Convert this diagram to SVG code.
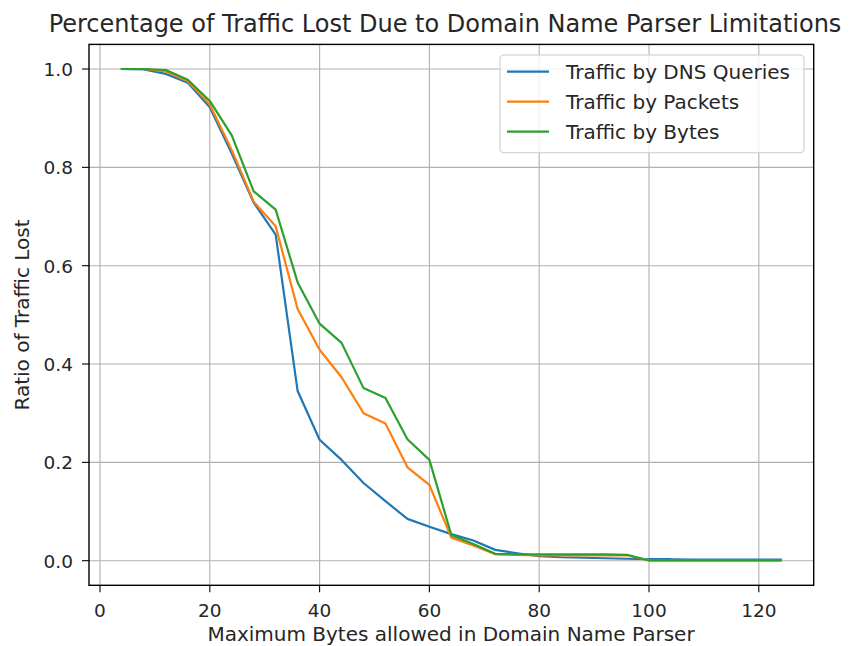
<svg xmlns="http://www.w3.org/2000/svg" width="860" height="646" viewBox="0 0 860 646">
  <style>
    text { font-family: "DejaVu Sans", "Liberation Sans", sans-serif; fill: #262626; }
    .grid line { stroke: #b0b0b0; stroke-width: 1.1; }
    .tick line { stroke: #000; stroke-width: 1.1; }
    .tl { font-size: 18.5px; }
    .lab { font-size: 20px; }
    .series { fill: none; stroke-width: 2.2; stroke-linejoin: round; stroke-linecap: square; vector-effect: non-scaling-stroke; }
    .s0 { stroke: #1f77b4; }
    .s1 { stroke: #ff7f0e; }
    .s2 { stroke: #2ca02c; }
  </style>

  <rect width="860" height="646" fill="#ffffff"/>

  <!-- grid -->
  <g class="grid" id="grid">
    <line x1="100" y1="44.4" x2="100" y2="585.3"/>
    <line x1="209.8" y1="44.4" x2="209.8" y2="585.3"/>
    <line x1="319.6" y1="44.4" x2="319.6" y2="585.3"/>
    <line x1="429.4" y1="44.4" x2="429.4" y2="585.3"/>
    <line x1="539.2" y1="44.4" x2="539.2" y2="585.3"/>
    <line x1="649" y1="44.4" x2="649" y2="585.3"/>
    <line x1="758.8" y1="44.4" x2="758.8" y2="585.3"/>
    <line x1="89" y1="560.7" x2="813.7" y2="560.7"/>
    <line x1="89" y1="462.36" x2="813.7" y2="462.36"/>
    <line x1="89" y1="364.02" x2="813.7" y2="364.02"/>
    <line x1="89" y1="265.68" x2="813.7" y2="265.68"/>
    <line x1="89" y1="167.34" x2="813.7" y2="167.34"/>
    <line x1="89" y1="69" x2="813.7" y2="69"/>
  </g>

  <!-- data series, in data units -->
  <g id="series" transform="translate(100,560.7) scale(5.49,-491.7)">
    <polyline id="dns" class="series s0" points="4,1.0 8,0.999 12,0.99 16,0.972 20,0.922 24,0.828 28,0.728 32,0.663 36,0.345 40,0.246 44,0.205 48,0.158 52,0.121 56,0.085 60,0.069 64,0.054 68,0.041 72,0.022 76,0.015 80,0.009 84,0.007 88,0.006 92,0.005 96,0.004 100,0.003 104,0.003 108,0.002 112,0.002 116,0.002 120,0.002 124,0.002"/>
    <polyline id="packets" class="series s1" points="4,1.0 8,1.0 12,0.995 16,0.975 20,0.928 24,0.835 28,0.73 32,0.68 36,0.512 40,0.429 44,0.373 48,0.3 52,0.279 56,0.19 60,0.154 64,0.047 68,0.031 72,0.013 76,0.012 80,0.011 84,0.011 88,0.011 92,0.011 96,0.011 100,0.0005 104,0.0005 108,0.0005 112,0.0005 116,0.0005 120,0.0005 124,0.0005"/>
    <polyline id="bytes" class="series s2" points="4,1.0 8,1.0 12,0.998 16,0.978 20,0.935 24,0.865 28,0.751 32,0.714 36,0.566 40,0.482 44,0.443 48,0.351 52,0.331 56,0.247 60,0.205 64,0.052 68,0.034 72,0.014 76,0.013 80,0.013 84,0.013 88,0.013 92,0.013 96,0.012 100,0.0005 104,0.0005 108,0.0005 112,0.0005 116,0.0005 120,0.0005 124,0.0005"/>
  </g>

  <!-- axes frame -->
  <rect id="frame" x="89" y="44.4" width="724.7" height="540.9" fill="none" stroke="#000" stroke-width="1.4"/>

  <!-- x ticks -->
  <g class="tick" id="xticks">
    <line x1="100" y1="585.3" x2="100" y2="592.3"/>
    <line x1="209.8" y1="585.3" x2="209.8" y2="592.3"/>
    <line x1="319.6" y1="585.3" x2="319.6" y2="592.3"/>
    <line x1="429.4" y1="585.3" x2="429.4" y2="592.3"/>
    <line x1="539.2" y1="585.3" x2="539.2" y2="592.3"/>
    <line x1="649" y1="585.3" x2="649" y2="592.3"/>
    <line x1="758.8" y1="585.3" x2="758.8" y2="592.3"/>
  </g>
  <g class="tl" id="xticklabels" text-anchor="middle">
    <text x="100" y="616.5">0</text>
    <text x="209.8" y="616.5">20</text>
    <text x="319.6" y="616.5">40</text>
    <text x="429.4" y="616.5">60</text>
    <text x="539.2" y="616.5">80</text>
    <text x="649" y="616.5">100</text>
    <text x="758.8" y="616.5">120</text>
  </g>

  <!-- y ticks -->
  <g class="tick" id="yticks">
    <line x1="82" y1="560.7" x2="89" y2="560.7"/>
    <line x1="82" y1="462.36" x2="89" y2="462.36"/>
    <line x1="82" y1="364.02" x2="89" y2="364.02"/>
    <line x1="82" y1="265.68" x2="89" y2="265.68"/>
    <line x1="82" y1="167.34" x2="89" y2="167.34"/>
    <line x1="82" y1="69" x2="89" y2="69"/>
  </g>
  <g class="tl" id="yticklabels" text-anchor="end">
    <text x="73" y="567.5">0.0</text>
    <text x="73" y="469.2">0.2</text>
    <text x="73" y="370.8">0.4</text>
    <text x="73" y="272.5">0.6</text>
    <text x="73" y="174.1">0.8</text>
    <text x="73" y="75.8">1.0</text>
  </g>

  <!-- axis labels and title -->
  <text id="xlabel" class="lab" x="451" y="641" text-anchor="middle">Maximum Bytes allowed in Domain Name Parser</text>
  <text id="ylabel" class="lab" transform="translate(28.5,315) rotate(-90)" text-anchor="middle">Ratio of Traffic Lost</text>
  <text id="title" x="445" y="32" text-anchor="middle" font-size="24">Percentage of Traffic Lost Due to Domain Name Parser Limitations</text>

  <!-- legend -->
  <g id="legend">
    <rect x="500" y="55" width="304" height="97.7" rx="4" fill="#ffffff" fill-opacity="0.8" stroke="#cccccc" stroke-width="1.1"/>
    <line x1="507" y1="71.7" x2="549" y2="71.7" class="s0" stroke-width="2.2"/>
    <line x1="507" y1="101.7" x2="549" y2="101.7" class="s1" stroke-width="2.2"/>
    <line x1="507" y1="131.7" x2="549" y2="131.7" class="s2" stroke-width="2.2"/>
    <text class="lab" x="566" y="78.5">Traffic by DNS Queries</text>
    <text class="lab" x="566" y="108.5">Traffic by Packets</text>
    <text class="lab" x="566" y="138.5">Traffic by Bytes</text>
  </g>
</svg>
